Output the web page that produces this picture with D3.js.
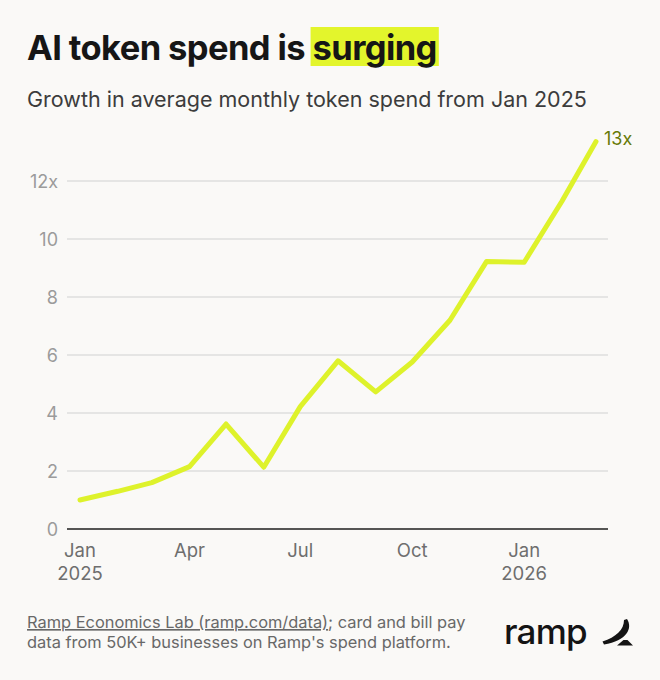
<!DOCTYPE html>
<html>
<head>
<meta charset="utf-8">
<script src="https://cdn.jsdelivr.net/npm/d3@7"></script>
<style>
  html, body { margin: 0; padding: 0; background: #faf9f7; }
  svg { display: block; font-family: Inter, "Liberation Sans", sans-serif; }
</style>
</head>
<body>
<script>
// ---------------- data ----------------
var months = ["2025-01","2025-02","2025-03","2025-04","2025-05","2025-06","2025-07",
              "2025-08","2025-09","2025-10","2025-11","2025-12","2026-01","2026-02","2026-03"];
var growth = [1.0, 1.3, 1.6, 2.15, 3.62, 2.13, 4.22, 5.8, 4.73, 5.76, 7.2, 9.22, 9.2, 11.3, 13.36];
var yTicks = [0, 2, 4, 6, 8, 10, 12];
var xTickMonths = ["2025-01","2025-04","2025-07","2025-10","2026-01"];
var endLabel = "13x";

// ---------------- layout ----------------
var W = 660, H = 680;
var plot = {left: 67, right: 608, x0: 80, x1: 596, top: 181, bottom: 529};

var parse = d3.utcParse("%Y-%m");
var data = months.map(function(m, i){ return {date: parse(m), v: growth[i]}; });

var svg = d3.select("body").append("svg").attr("width", W).attr("height", H);
svg.append("rect").attr("width", W).attr("height", H).attr("fill", "#faf9f7");

var x = d3.scaleUtc().domain([parse(months[0]), parse(months[months.length-1])]).range([plot.x0, plot.x1]);
var y = d3.scaleLinear().domain([0, 12]).range([plot.bottom, plot.top]);

// title with highlighted word
var title = svg.append("text").attr("x", 27).attr("y", 60)
  .attr("font-size", 34.5).attr("font-weight", 700).attr("fill", "#161616")
  .attr("letter-spacing", -0.6);
title.append("tspan").text("AI token spend is ");
var hl = title.append("tspan").text("surging");
// box behind the highlighted word, sized from the rendered glyphs
var n = hl.node().getNumberOfChars();
var start = hl.node().getStartPositionOfChar(0).x;
var end = hl.node().getEndPositionOfChar(n - 1).x;
svg.insert("rect", "text").attr("x", start - 2).attr("y", 27)
  .attr("width", end - start + 4).attr("height", 39).attr("fill", "#e3f52c");

svg.append("text").attr("x", 27).attr("y", 107)
  .attr("font-size", 21.5).attr("fill", "#3c3c3c")
  .text("Growth in average monthly token spend from Jan 2025");

// gridlines + y labels
svg.append("g").selectAll("line").data(yTicks.filter(function(d){ return d > 0; })).enter().append("line")
  .attr("x1", plot.left).attr("x2", plot.right)
  .attr("y1", function(d){ return y(d); }).attr("y2", function(d){ return y(d); })
  .attr("stroke", "#dedede").attr("stroke-width", 1.3);

svg.append("g").selectAll("text").data(yTicks).enter().append("text")
  .attr("x", 58).attr("y", function(d){ return y(d) + 6.5; })
  .attr("text-anchor", "end").attr("font-size", 18).attr("fill", "#9b9b9b")
  .text(function(d){ return d === 12 ? "12x" : d; });

// baseline axis
svg.append("line").attr("x1", plot.left).attr("x2", plot.right)
  .attr("y1", y(0)).attr("y2", y(0)).attr("stroke", "#1e1e1e").attr("stroke-width", 1.5);

// x labels
var xl = svg.append("g").selectAll("text").data(xTickMonths).enter().append("text")
  .attr("x", function(d){ return x(parse(d)); }).attr("y", 557)
  .attr("text-anchor", "middle").attr("font-size", 18.5).attr("fill", "#6e6e6e");
xl.append("tspan").text(function(d){ return d3.utcFormat("%b")(parse(d)); });
xl.filter(function(d){ return d.slice(5) === "01"; }).append("tspan")
  .attr("x", function(d){ return x(parse(d)); }).attr("dy", 23)
  .text(function(d){ return d.slice(0, 4); });

// line
var line = d3.line().x(function(d){ return x(d.date); }).y(function(d){ return y(d.v); });
svg.append("path").datum(data).attr("d", line)
  .attr("fill", "none").attr("stroke", "#def22b").attr("stroke-width", 5)
  .attr("stroke-linejoin", "round").attr("stroke-linecap", "round");

var last = data[data.length - 1];
svg.append("text").attr("x", x(last.date) + 8).attr("y", y(last.v) + 3)
  .attr("font-size", 18).attr("fill", "#677a07").text(endLabel);

// footer
var foot = svg.append("text").attr("font-size", 16.4).attr("fill", "#686868");
var l1 = foot.append("tspan").attr("x", 27).attr("y", 628);
l1.append("tspan").attr("text-decoration", "underline").text("Ramp Economics Lab (ramp.com/data)");
l1.append("tspan").text("; card and bill pay");
foot.append("tspan").attr("x", 27).attr("y", 648)
  .text("data from 50K+ businesses on Ramp's spend platform.");

// logo
svg.append("text").attr("x", 504).attr("y", 644).attr("font-size", 35)
  .attr("font-weight", 500).attr("fill", "#141414").attr("letter-spacing", -0.8).text("ramp");
svg.append("path")
  .attr("d", "M627,619 C633,628 627,641 604,644.5 L602.5,641.5 C616,637 624,630 624,620 Z " +
             "M617,645.5 L623.5,640 L627.5,640 L633,645.5 Z")
  .attr("fill", "#141414");
</script>
</body>
</html>
